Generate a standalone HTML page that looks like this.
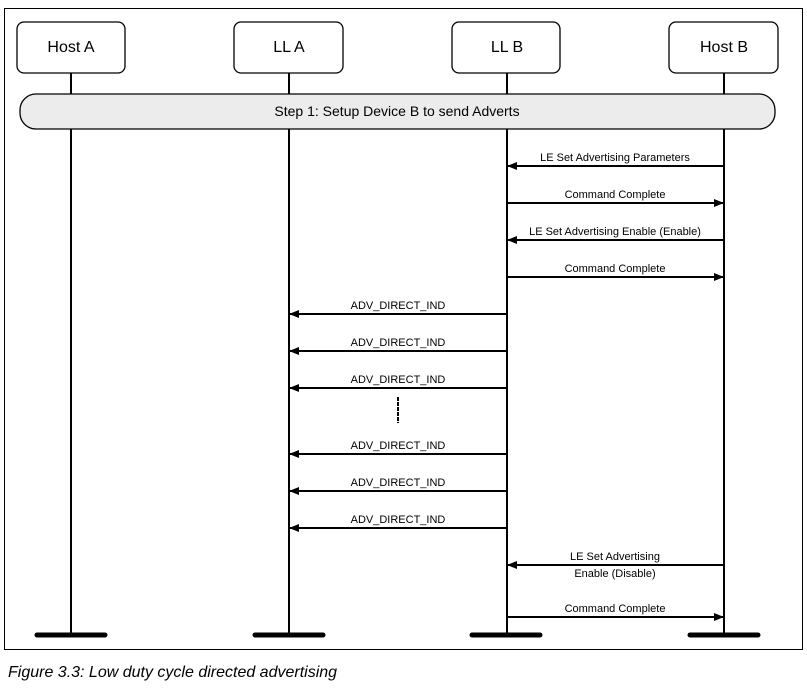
<!DOCTYPE html>
<html><head><style>body{margin:0;background:#fff}</style></head><body>
<svg width="807" height="690" xmlns="http://www.w3.org/2000/svg" font-family="Liberation Sans, sans-serif">
<defs><marker id="a" markerWidth="10" markerHeight="8" refX="9" refY="4" orient="auto" markerUnits="userSpaceOnUse"><path d="M0,0L10,4L0,8z" fill="#000"/></marker></defs>
<rect x="4.5" y="8.5" width="798" height="641" fill="none" stroke="#000" stroke-width="1"/>
<g stroke="#000" stroke-width="2">
<line x1="71" y1="73" x2="71" y2="634"/><line x1="289" y1="73" x2="289" y2="634"/>
<line x1="507" y1="73" x2="507" y2="634"/><line x1="724" y1="73" x2="724" y2="634"/>
</g>
<g fill="#fff" stroke="#000" stroke-width="1.3">
<rect x="17" y="22" width="108" height="51" rx="7"/><rect x="234" y="22" width="109" height="51" rx="7"/>
<rect x="452" y="22" width="108" height="51" rx="7"/><rect x="669" y="22" width="109" height="51" rx="7"/>
<rect x="20" y="94" width="755" height="35" rx="16" fill="#ececec"/>
</g>
<g font-size="16" text-anchor="middle">
<text x="71" y="52">Host A</text><text x="289" y="52">LL A</text><text x="507" y="52">LL B</text><text x="724" y="52">Host B</text>
<text x="397" y="116" font-size="14">Step 1:  Setup Device B to send Adverts</text>
</g>
<g stroke="#000" stroke-width="2" marker-end="url(#a)">
<line x1="724" y1="166" x2="508" y2="166"/>
<line x1="507" y1="203" x2="723" y2="203"/>
<line x1="724" y1="240" x2="508" y2="240"/>
<line x1="507" y1="277" x2="723" y2="277"/>
<line x1="507" y1="314" x2="290" y2="314"/>
<line x1="507" y1="351" x2="290" y2="351"/>
<line x1="507" y1="388" x2="290" y2="388"/>
<line x1="507" y1="454" x2="290" y2="454"/>
<line x1="507" y1="491" x2="290" y2="491"/>
<line x1="507" y1="528" x2="290" y2="528"/>
<line x1="724" y1="565" x2="508" y2="565"/>
<line x1="507" y1="617" x2="723" y2="617"/>
</g>
<line x1="398" y1="397" x2="398" y2="423" stroke="#000" stroke-width="2" stroke-dasharray="4,1"/>
<g font-size="11" text-anchor="middle">
<text x="615" y="161">LE Set Advertising Parameters</text>
<text x="615" y="198">Command Complete</text>
<text x="615" y="235">LE Set Advertising Enable (Enable)</text>
<text x="615" y="272">Command Complete</text>
<text x="398" y="309">ADV_DIRECT_IND</text>
<text x="398" y="346">ADV_DIRECT_IND</text>
<text x="398" y="383">ADV_DIRECT_IND</text>
<text x="398" y="449">ADV_DIRECT_IND</text>
<text x="398" y="486">ADV_DIRECT_IND</text>
<text x="398" y="523">ADV_DIRECT_IND</text>
<text x="615" y="560">LE Set Advertising</text>
<text x="615" y="577">Enable (Disable)</text>
<text x="615" y="612">Command Complete</text>
</g>
<g stroke="#000" stroke-width="5" stroke-linecap="round">
<line x1="37" y1="635" x2="105" y2="635"/><line x1="255" y1="635" x2="323" y2="635"/>
<line x1="472" y1="635" x2="540" y2="635"/><line x1="690" y1="635" x2="758" y2="635"/>
</g>
<text x="8" y="677" font-size="16" font-style="italic">Figure 3.3:  Low duty cycle directed advertising</text>
</svg>
</body></html>
